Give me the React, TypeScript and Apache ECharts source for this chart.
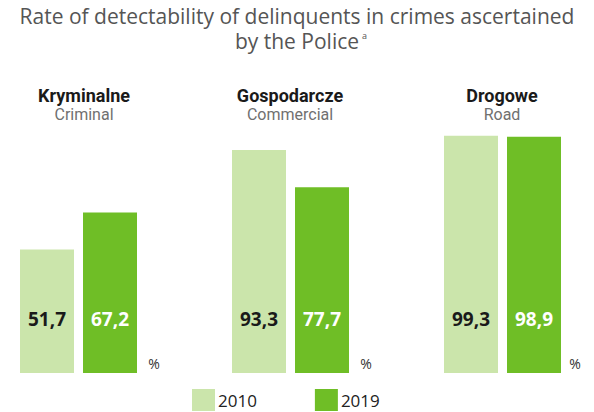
import React, { useEffect, useRef } from "react";
import * as echarts from "echarts";

const categories = ["Kryminalne", "Gospodarcze", "Drogowe"];
const categoriesEn = ["Criminal", "Commercial", "Road"];
const years = ["2010", "2019"];
const values2010 = [51.7, 93.3, 99.3];
const values2019 = [67.2, 77.7, 98.9];
const titleLines = ["Rate of detectability of delinquents in crimes ascertained", "by the Police"];
const groupLeft = [20, 232, 444];
const headerX = [84, 290, 502];
const percentX = [154, 366, 575];

const LIGHT = "#cbe5ab";
const DARK = "#6fbe26";
const HEAD = "Roboto, sans-serif";
const SANS = '"Open Sans", "Noto Sans", sans-serif';

const fmt = (v: number) => v.toFixed(1).replace(".", ",");

export default function App() {
  const ref = useRef<HTMLDivElement>(null);
  useEffect(() => {
    if (!ref.current) return;
    const chart = echarts.init(ref.current, null, { renderer: "svg" });
    const titleStyle = {
      fontFamily: SANS,
      fontWeight: "normal",
      fontSize: 21,
      fill: "#555555",
      textAlign: "center",
      textVerticalAlign: "middle",
    };
    const graphics: any[] = [
      { type: "text", x: 297, y: 16, style: { ...titleStyle, text: titleLines[0] } },
      { type: "text", x: 297, y: 41, style: { ...titleStyle, text: titleLines[1] } },
      {
        type: "text",
        x: 362,
        y: 31,
        style: {
          text: "a",
          fontFamily: SANS,
          fontSize: 9,
          fill: "#555555",
          textAlign: "left",
          textVerticalAlign: "top",
        },
      },
    ];
    categories.forEach((c, i) => {
      graphics.push({
        type: "text",
        x: headerX[i],
        y: 95,
        style: {
          text: c,
          fontFamily: HEAD,
          fontWeight: "bold",
          fontSize: 18,
          fill: "#1a1a1a",
          textAlign: "center",
          textVerticalAlign: "middle",
        },
      });
      graphics.push({
        type: "text",
        x: headerX[i],
        y: 114,
        style: {
          text: categoriesEn[i],
          fontFamily: HEAD,
          fontSize: 16,
          fill: "#707070",
          textAlign: "center",
          textVerticalAlign: "middle",
        },
      });
      graphics.push({
        type: "text",
        x: percentX[i],
        y: 363,
        style: {
          text: "%",
          fontFamily: SANS,
          fontSize: 14,
          fill: "#333",
          textAlign: "center",
          textVerticalAlign: "middle",
        },
      });
    });
    const labelFor = (color: string) => ({
      show: true,
      position: "insideBottom",
      distance: 45,
      formatter: (p: any) => fmt(p.value),
      fontFamily: SANS,
      fontWeight: "bold",
      fontSize: 19,
      color,
    });
    const grids = categories.map((_, i) => ({
      left: groupLeft[i],
      width: 117,
      top: 134,
      bottom: 39,
    }));
    const xAxes = categories.map((c, i) => ({
      type: "category",
      gridIndex: i,
      data: [c],
      show: false,
    }));
    const yAxes = categories.map((_, i) => ({
      type: "value",
      gridIndex: i,
      min: 0,
      max: 100,
      show: false,
    }));
    const series: any[] = [];
    categories.forEach((_, i) => {
      series.push({
        name: years[0],
        type: "bar",
        xAxisIndex: i,
        yAxisIndex: i,
        data: [values2010[i]],
        barWidth: 54,
        barGap: "16.7%",
        itemStyle: { color: LIGHT },
        label: labelFor("#1a1a1a"),
      });
      series.push({
        name: years[1],
        type: "bar",
        xAxisIndex: i,
        yAxisIndex: i,
        data: [values2019[i]],
        barWidth: 54,
        barGap: "16.7%",
        itemStyle: { color: DARK },
        label: labelFor("#ffffff"),
      });
    });
    chart.setOption({
      animation: false,
      legend: {
        data: years,
        left: 192,
        top: 389,
        padding: 0,
        itemWidth: 23,
        itemHeight: 22,
        itemGap: 58,
        icon: "rect",
        textStyle: { fontFamily: SANS, fontSize: 17, color: "#222", padding: [0, 0, 0, -2] },
      },
      grid: grids,
      xAxis: xAxes,
      yAxis: yAxes,
      series,
      graphic: graphics,
    });
    return () => chart.dispose();
  }, []);
  return (
    <div
      ref={ref}
      style={{ position: "fixed", left: 0, top: 0, width: 594, height: 412, background: "#fff" }}
    />
  );
}
